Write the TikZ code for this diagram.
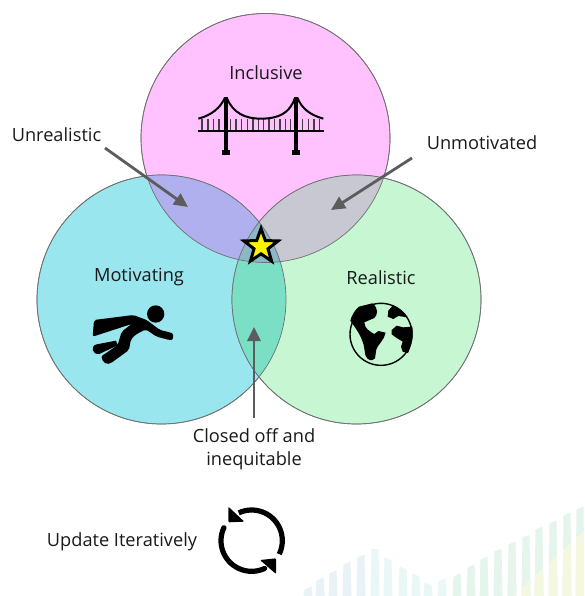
\documentclass[tikz,border=0pt]{standalone}
\usepackage{fontspec}
\setmainfont{Open Sans}
\usetikzlibrary{shapes.geometric,arrows.meta}
\definecolor{cpink}{HTML}{FFC2FF}
\definecolor{ccyan}{HTML}{99E6EE}
\definecolor{cgreen}{HTML}{C6F7D2}
\definecolor{cpc}{HTML}{B0B0EE}
\definecolor{cpg}{HTML}{C8C8D2}
\definecolor{ccg}{HTML}{7ADFC5}
\definecolor{cmid}{HTML}{8AB8C6}
\definecolor{edgegrey}{HTML}{707070}
\definecolor{arrowgrey}{HTML}{5C5C5C}
\definecolor{barblue}{HTML}{E8F2F7}
\definecolor{barteal}{HTML}{E9F7F6}
\definecolor{bargreen}{HTML}{E5F5EC}
\definecolor{baryellow}{HTML}{F4F8E0}
\tikzset{
  lbl/.style={font=\fontsize{18.2}{23}\selectfont,text=black!90,inner sep=0pt,align=center},
  callout/.style={draw=arrowgrey,line width=2.8pt,-{Triangle[length=14pt,width=13pt]}},
  ring/.style={circle,draw=edgegrey,line width=.7pt,minimum size=249pt,inner sep=0pt},
  icon/.style={x=.33333pt,y=-.33333pt}
}
\begin{document}
\begin{tikzpicture}[x=1pt,y=-1pt]
\useasboundingbox (0,0) rectangle (585,596);
% faint background bars
\foreach \x/\t/\s/\c in {308/588/1.5/barblue,320/579/1.5/barblue,333/572/1.5/barblue,347/563/1.5/barblue,361/556/1.5/barblue,375/549/0/barteal,388/559/-1.5/barteal,403/568/-1.5/barteal,416/575/-1.5/barteal,428/584/-1.5/barteal,442/580/1.5/barteal,457/575/2/bargreen,471/566/1.5/bargreen,484/558/1.5/bargreen,498/550/1.5/bargreen,512/543/1.5/bargreen,526/536/1/bargreen,539/528/1.5/bargreen,553/522/1.5/bargreen,567/514/1.5/bargreen,580/508/1.5/bargreen}{
  \begin{scope}
  \clip (\x-3.5,\t+\s) -- (\x+3.5,\t-\s) -- (\x+4.5,596) -- (\x-4.5,596) -- cycle;
  \fill[\c] (\x-6,\t-6) rectangle (\x+6,596);
  \fill[baryellow] (513,596) -- (585,530) -- (585,596) -- cycle;
  \end{scope}
}
% circles
\node[ring,fill=cpink] (top) at (265.5,138) {};
\node[ring,fill=ccyan] (lft) at (161.5,299.5) {};
\node[ring,fill=cgreen] (rgt) at (356.5,299.5) {};
\begin{scope}
\clip (265.5,138) circle (124.5);
\fill[cpc] (161.5,299.5) circle (124.5);
\fill[cpg] (356.5,299.5) circle (124.5);
\end{scope}
\begin{scope}
\clip (161.5,299.5) circle (124.5);
\fill[ccg] (356.5,299.5) circle (124.5);
\clip (356.5,299.5) circle (124.5);
\fill[cmid] (265.5,138) circle (124.5);
\end{scope}
\foreach \c in {(265.5,138),(161.5,299.5),(356.5,299.5)}{\draw[edgegrey,line width=.7pt] \c circle (124.5);}
% labels
\node[lbl] (linc) at (266,72.5) {Inclusive};
\node[lbl] (lmot) at (139,277) {Motivating};
\node[lbl] (lrea) at (381,278) {Realistic};
\node[lbl] (lunr) at (56.5,135) {Unrealistic};
\node[lbl] (lunm) at (482,142.5) {Unmotivated};
\node[lbl] (lclo) at (254,449) {Closed off and\\inequitable};
\node[lbl] (lupd) at (122,542) {Update Iteratively};
% callouts
\coordinate (a1) at (188,207);
\coordinate (a2) at (331,210);
\coordinate (a3) at (254,327);
\coordinate (s1) at (105,148);
\coordinate (s2) at (412,158);
\coordinate (s3) at (254,418);
\draw[callout] (s1) -- (a1);
\draw[callout] (s2) -- (a2);
\draw[callout] (s3) -- (a3);
% star
\node[star,star points=5,star point ratio=2.45,draw=black,fill=yellow,line width=3pt,minimum size=36pt,inner sep=0pt] (st) at (261,246.5) {};
% bridge
\begin{scope}[shift={(180,80)},icon]
\draw[line width=1.1pt,black!75] \foreach \x in {66,84,100,117,152,168,185,202,219,236,251,267,283,300,317,332,367,385,402,419} {(\x,118) -- (\x,152)};
\draw[line width=2pt] (55,116) .. controls (95,105) and (120,85) .. (135,53);
\draw[line width=2pt] (140,53) .. controls (160,100) and (195,116) .. (243,116) .. controls (295,116) and (330,100) .. (345,53);
\draw[line width=2pt] (352,53) .. controls (365,85) and (390,105) .. (430,116);
\fill (55,149) rectangle (431,157);
\fill (131,50) rectangle (143,212);
\fill (342,50) rectangle (355,212);
\fill (126,210) rectangle (149,226);
\fill (337,210) rectangle (360,226);
\end{scope}
% flying figure
\begin{scope}[shift={(80,290)},icon]
\fill (227,72) circle (26);
\fill[rounded corners=2pt] (42,90) -- (160,75) -- (200,90) -- (240,120) -- (270,127) .. controls (282,132) and (280,150) .. (268,150) -- (230,140) -- (197,118) -- (165,135) -- (152,150) -- (147,180) -- (92,220) .. controls (70,225) and (60,200) .. (73,193) -- (113,165) -- (125,125) -- (155,102) -- (38,140) -- cycle;
\fill (50,163) -- (108,152) -- (113,166) -- (58,192) .. controls (36,195) and (30,168) .. (50,163) -- cycle;
\end{scope}
% globe
\begin{scope}[shift={(335,290)},icon]
\draw[line width=1.4pt] (138,133) circle (93);
\fill (72,50) -- (112,40) .. controls (132,55) and (128,75) .. (118,84) -- (88,97) .. controls (88,115) and (105,125) .. (118,132) -- (130,123) -- (152,128) .. controls (148,150) and (128,165) .. (124,178) -- (120,205) .. controls (112,215) and (96,212) .. (91,195) -- (86,165) .. controls (78,135) and (62,115) .. (46,92) .. controls (50,75) and (60,60) .. (72,50) -- cycle;
\fill (160,62) -- (172,48) .. controls (190,52) and (207,66) .. (218,82) -- (190,78) -- (175,87) -- (158,80) -- cycle;
\fill (170,120) -- (185,107) -- (205,112) -- (232,110) .. controls (236,140) and (230,165) .. (219,189) -- (203,185) -- (198,170) -- (203,155) -- (185,144) -- (170,133) -- cycle;
\end{scope}
% refresh
\begin{scope}[shift={(200,490)},icon]
\draw[line width=5.2pt] (155,152) ++(-115:92) arc[start angle=-115,end angle=26,radius=92];
\draw[line width=5.2pt,line cap=round] (155,152) ++(-155:92) arc[start angle=-155,end angle=-295,radius=92];
\fill[rounded corners=1pt] (85,50) -- (85,97) -- (133,95) -- cycle;
\fill[rounded corners=1pt] (228,205) -- (228,252) -- (180,210) -- cycle;
\end{scope}
\end{tikzpicture}
\end{document}
